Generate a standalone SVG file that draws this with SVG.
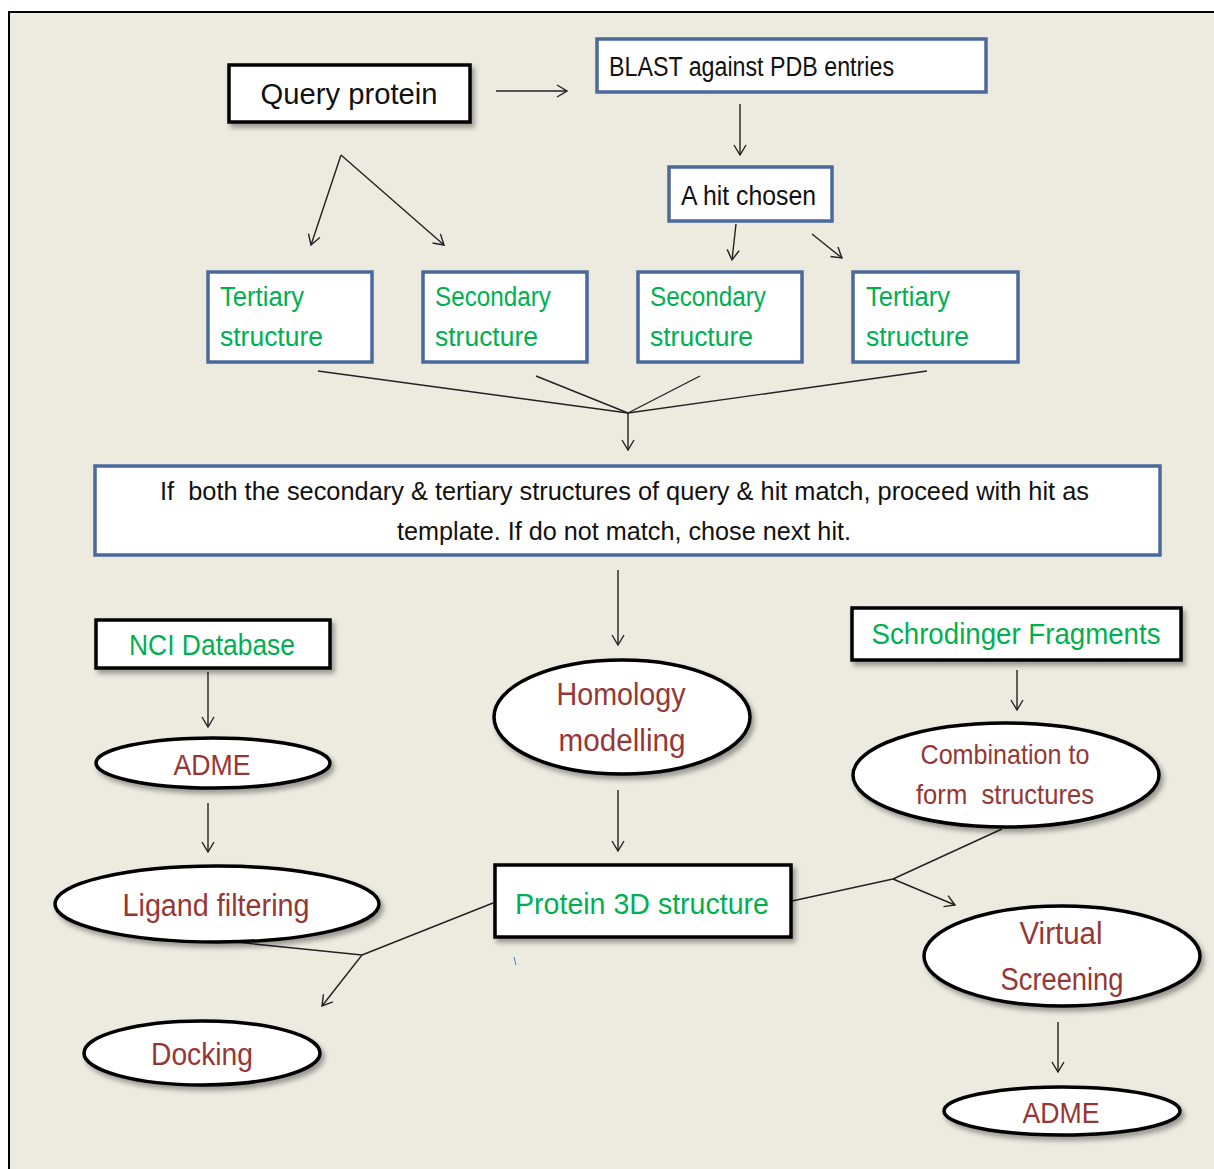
<svg xmlns="http://www.w3.org/2000/svg" width="1214" height="1169" viewBox="0 0 1214 1169">
<style>
.t{font-family:"Liberation Sans",Arial,sans-serif;}
.k{fill:#111;}
.g{fill:#00B050;}
.r{fill:#953735;}
.p{white-space:pre;}
.bx{fill:#fff;stroke:#000;stroke-width:3.5;}
.bb{fill:#fff;stroke:#4A6A9C;stroke-width:3.5;}
.el{fill:#fff;stroke:#000;stroke-width:3.5;}
.c{fill:none;stroke:#222;stroke-width:1.4;}
.a{fill:none;stroke:#222;stroke-width:1.4;marker-end:url(#ah);}
</style>
<defs>
<marker id="ah" viewBox="0 0 12 14" refX="11" refY="7" markerWidth="12" markerHeight="14" markerUnits="userSpaceOnUse" orient="auto">
<path d="M1,1 L11,7 L1,13" fill="none" stroke="#222" stroke-width="1.4"/>
</marker>
<filter id="sh" x="-10%" y="-20%" width="125%" height="150%">
<feDropShadow dx="3" dy="4" stdDeviation="2.5" flood-color="#000" flood-opacity="0.35"/>
</filter>
</defs>
<rect x="0" y="0" width="1214" height="1169" fill="#fff"/>
<rect x="9" y="12" width="1205" height="1157" fill="#EDEAE0"/>
<path d="M9,1169 L9,12 L1214,12" fill="none" stroke="#000" stroke-width="2"/>

<g id="connectors">
<line class="a" x1="496" y1="91" x2="567" y2="91"/>
<line class="a" x1="341" y1="155" x2="311" y2="245"/>
<line class="a" x1="341" y1="155" x2="444" y2="245"/>
<line class="a" x1="740" y1="104" x2="740" y2="155"/>
<line class="a" x1="736" y1="224" x2="732" y2="260"/>
<line class="a" x1="812" y1="234" x2="842" y2="258"/>
<line class="c" x1="318" y1="371" x2="628" y2="413"/>
<line class="c" x1="536" y1="376" x2="628" y2="413"/>
<line class="c" x1="700" y1="376" x2="628" y2="413"/>
<line class="c" x1="927" y1="371" x2="628" y2="413"/>
<line class="a" x1="628" y1="413" x2="628" y2="450"/>
<line class="a" x1="618" y1="570" x2="618" y2="645"/>
<line class="a" x1="208" y1="672" x2="208" y2="727"/>
<line class="a" x1="208" y1="803" x2="208" y2="852"/>
<line class="a" x1="618" y1="790" x2="618" y2="851"/>
<line class="c" x1="493" y1="903" x2="362" y2="955"/>
<line class="c" x1="235" y1="942" x2="362" y2="955"/>
<line class="a" x1="362" y1="955" x2="322" y2="1006"/>
<line x1="514" y1="957" x2="516" y2="965" stroke="#4F81BD" stroke-width="1"/>
<line class="a" x1="1017" y1="670" x2="1017" y2="710"/>
<line class="c" x1="792" y1="901" x2="893" y2="879"/>
<line class="c" x1="1002" y1="829" x2="893" y2="879"/>
<line class="a" x1="893" y1="879" x2="955" y2="905"/>
<line class="a" x1="1058" y1="1022" x2="1058" y2="1072"/>
</g>

<g id="query" class="t">
<rect class="bx" x="229" y="65" width="241" height="57" filter="url(#sh)"/>
<text class="k" x="349" y="104" font-size="30" text-anchor="middle" textLength="177" lengthAdjust="spacingAndGlyphs">Query protein</text>
</g>
<g id="blast" class="t">
<rect class="bb" x="597" y="39" width="389" height="53"/>
<text class="k" x="609" y="76" font-size="27" textLength="285" lengthAdjust="spacingAndGlyphs">BLAST against PDB entries</text>
</g>
<g id="hit" class="t">
<rect class="bb" x="669" y="167" width="163" height="54"/>
<text class="k" x="681" y="205" font-size="27" textLength="135" lengthAdjust="spacingAndGlyphs">A hit chosen</text>
</g>
<g id="tert1" class="t">
<rect class="bb" x="208" y="272" width="164" height="90"/>
<text class="g" x="220" y="306" font-size="27" textLength="84" lengthAdjust="spacingAndGlyphs">Tertiary</text>
<text class="g" x="220" y="346" font-size="27" textLength="103" lengthAdjust="spacingAndGlyphs">structure</text>
</g>
<g id="sec1" class="t">
<rect class="bb" x="423" y="272" width="164" height="90"/>
<text class="g" x="435" y="306" font-size="27" textLength="116" lengthAdjust="spacingAndGlyphs">Secondary</text>
<text class="g" x="435" y="346" font-size="27" textLength="103" lengthAdjust="spacingAndGlyphs">structure</text>
</g>
<g id="sec2" class="t">
<rect class="bb" x="638" y="272" width="164" height="90"/>
<text class="g" x="650" y="306" font-size="27" textLength="116" lengthAdjust="spacingAndGlyphs">Secondary</text>
<text class="g" x="650" y="346" font-size="27" textLength="103" lengthAdjust="spacingAndGlyphs">structure</text>
</g>
<g id="tert2" class="t">
<rect class="bb" x="853" y="272" width="165" height="90"/>
<text class="g" x="866" y="306" font-size="27" textLength="84" lengthAdjust="spacingAndGlyphs">Tertiary</text>
<text class="g" x="866" y="346" font-size="27" textLength="103" lengthAdjust="spacingAndGlyphs">structure</text>
</g>
<g id="match" class="t">
<rect class="bb" x="95" y="466" width="1065" height="89"/>
<text class="k p" x="160" y="500" font-size="26" textLength="929" lengthAdjust="spacingAndGlyphs">If  both the secondary &amp; tertiary structures of query &amp; hit match, proceed with hit as</text>
<text class="k" x="397" y="540" font-size="26" textLength="454" lengthAdjust="spacingAndGlyphs">template. If do not match, chose next hit.</text>
</g>
<g id="nci" class="t">
<rect class="bx" x="96" y="620" width="234" height="48" filter="url(#sh)"/>
<text class="g" x="212" y="655" font-size="29" text-anchor="middle" textLength="166" lengthAdjust="spacingAndGlyphs">NCI Database</text>
</g>
<g id="adme1" class="t">
<ellipse class="el" cx="213" cy="763" rx="117" ry="25" filter="url(#sh)"/>
<text class="r" x="212" y="775" font-size="29" text-anchor="middle" textLength="77" lengthAdjust="spacingAndGlyphs">ADME</text>
</g>
<g id="ligand" class="t">
<ellipse class="el" cx="217" cy="904" rx="162" ry="38" filter="url(#sh)"/>
<text class="r" x="216" y="916" font-size="31" text-anchor="middle" textLength="187" lengthAdjust="spacingAndGlyphs">Ligand filtering</text>
</g>
<g id="docking" class="t">
<ellipse class="el" cx="202" cy="1053" rx="118" ry="32" filter="url(#sh)"/>
<text class="r" x="202" y="1065" font-size="31" text-anchor="middle" textLength="102" lengthAdjust="spacingAndGlyphs">Docking</text>
</g>
<g id="homology" class="t">
<ellipse class="el" cx="622" cy="717" rx="128" ry="57" filter="url(#sh)"/>
<text class="r" x="621" y="705" font-size="31" text-anchor="middle" textLength="129" lengthAdjust="spacingAndGlyphs">Homology</text>
<text class="r" x="622" y="751" font-size="31" text-anchor="middle" textLength="127" lengthAdjust="spacingAndGlyphs">modelling</text>
</g>
<g id="protein3d" class="t">
<rect class="bx" x="495" y="865" width="296" height="72" filter="url(#sh)"/>
<text class="g" x="642" y="914" font-size="30" text-anchor="middle" textLength="254" lengthAdjust="spacingAndGlyphs">Protein 3D structure</text>
</g>
<g id="schrodinger" class="t">
<rect class="bx" x="852" y="608" width="329" height="52" filter="url(#sh)"/>
<text class="g" x="1016" y="644" font-size="29" text-anchor="middle" textLength="289" lengthAdjust="spacingAndGlyphs">Schrodinger Fragments</text>
</g>
<g id="combination" class="t">
<ellipse class="el" cx="1006" cy="775" rx="153" ry="52" filter="url(#sh)"/>
<text class="r" x="1005" y="764" font-size="28" text-anchor="middle" textLength="169" lengthAdjust="spacingAndGlyphs">Combination to</text>
<text class="r p" x="1005" y="804" font-size="28" text-anchor="middle" textLength="178" lengthAdjust="spacingAndGlyphs">form  structures</text>
</g>
<g id="virtual" class="t">
<ellipse class="el" cx="1062" cy="956" rx="138" ry="50" filter="url(#sh)"/>
<text class="r" x="1061" y="944" font-size="31" text-anchor="middle" textLength="83" lengthAdjust="spacingAndGlyphs">Virtual</text>
<text class="r" x="1062" y="990" font-size="31" text-anchor="middle" textLength="123" lengthAdjust="spacingAndGlyphs">Screening</text>
</g>
<g id="adme2" class="t">
<ellipse class="el" cx="1062" cy="1111" rx="118" ry="24" filter="url(#sh)"/>
<text class="r" x="1061" y="1123" font-size="29" text-anchor="middle" textLength="77" lengthAdjust="spacingAndGlyphs">ADME</text>
</g>
</svg>
